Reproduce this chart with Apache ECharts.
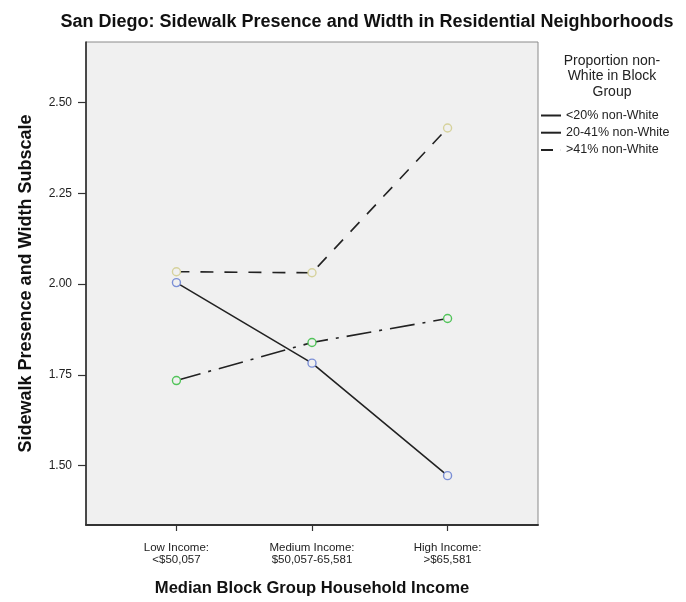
<!DOCTYPE html>
<html>
<head>
<meta charset="utf-8">
<script src="https://cdn.jsdelivr.net/npm/echarts@6/dist/echarts.min.js"></script>
<style>
html,body{margin:0;padding:0;background:#fff;}
#chart{width:686px;height:602px;}
</style>
</head>
<body>
<div id="chart"></div>
<script>
// ---- data ----
var categories = ['Low Income:\n<$50,057', 'Medium Income:\n$50,057-65,581', 'High Income:\n>$65,581'];
var seriesNames = ['<20% non-White', '20-41% non-White', '>41% non-White'];
var under20 = [2.004, 1.782, 1.472];
var from20to41 = [1.734, 1.839, 1.905];
var over41 = [2.034, 2.031, 2.430];
var yTicks = [1.50, 1.75, 2.00, 2.25, 2.50];

var FONT = '"Liberation Sans", Arial, sans-serif';
function pairs(vals) { return vals.map(function (v, i) { return [i, v]; }); }
var catIdx = categories.map(function (c, i) { return i; });

var markerColors = ['#7b8fd6', '#52c45a', '#d6d29c'];
var dashes = ['solid', [25, 8, 3, 8], [13, 11]];
var valueSets = [under20, from20to41, over41];

var chart = echarts.init(document.getElementById('chart'));
chart.setOption({
  animation: false,
  backgroundColor: '#ffffff',
  textStyle: { fontFamily: FONT },
  title: [
    {
      text: 'San Diego: Sidewalk Presence and Width in Residential Neighborhoods',
      left: 362, top: 8, textAlign: 'center',
      textStyle: { fontFamily: FONT, fontSize: 18, fontWeight: 'bold', color: '#111' }
    },
    {
      text: 'Proportion non-\nWhite in Block\nGroup',
      left: 607, top: 48, textAlign: 'center',
      textStyle: { fontFamily: FONT, fontSize: 14, fontWeight: 'normal', color: '#222', lineHeight: 15.5 }
    }
  ],
  legend: {
    orient: 'vertical',
    left: 541, top: 109, padding: 0,
    itemWidth: 20, itemHeight: 2, itemGap: 4.2,
    icon: 'rect',
    itemStyle: { color: '#222', borderWidth: 0 },
    textStyle: { fontFamily: FONT, fontSize: 12.5, color: '#222', lineHeight: 12 },
    data: [
      { name: seriesNames[0] },
      { name: seriesNames[1] },
      { name: seriesNames[2], icon: 'path://M0,0H12V2H0Z M19.9,0H20V2H19.9Z' }
    ]
  },
  grid: {
    left: 86, right: 148, top: 42, bottom: 74,
    show: true, backgroundColor: '#f0f0f0', borderColor: '#8a8a8a', borderWidth: 1
  },
  xAxis: {
    type: 'value', min: -0.667, max: 2.667,
    name: 'Median Block Group Household Income', nameLocation: 'middle', nameGap: 55,
    nameTextStyle: { fontFamily: FONT, fontSize: 16.6, fontWeight: 'bold', color: '#111' },
    axisLine: { show: true, onZero: false, lineStyle: { color: '#333', width: 2 } },
    axisTick: { show: true, length: 6, customValues: catIdx, lineStyle: { color: '#333', width: 1.2 } },
    axisLabel: {
      customValues: catIdx, margin: 17,
      fontFamily: FONT, fontSize: 11.5, color: '#222', lineHeight: 12,
      formatter: function (v) { return categories[Math.round(v)] || ''; }
    },
    splitLine: { show: false }
  },
  yAxis: {
    type: 'value', min: 1.336, max: 2.667,
    name: 'Sidewalk Presence and Width Subscale', nameLocation: 'middle', nameGap: 51,
    nameTextStyle: { fontFamily: FONT, fontSize: 18, fontWeight: 'bold', color: '#111' },
    axisLine: { show: true, onZero: false, lineStyle: { color: '#222', width: 1.5 } },
    axisTick: { show: true, length: 8, customValues: yTicks, lineStyle: { color: '#333', width: 1.2 } },
    axisLabel: {
      customValues: yTicks, margin: 14,
      fontFamily: FONT, fontSize: 12, color: '#222',
      formatter: function (v) { return v.toFixed(2); }
    },
    splitLine: { show: false }
  },
  series: seriesNames.map(function (n, i) {
    return {
      name: n, type: 'line',
      data: pairs(valueSets[i]),
      symbol: 'circle', symbolSize: 8,
      itemStyle: { color: '#f0f0f0', borderColor: markerColors[i], borderWidth: 1.4 },
      lineStyle: { color: '#222', width: 1.6, type: dashes[i] },
      z: 3 - i
    };
  })
});
</script>
</body>
</html>
